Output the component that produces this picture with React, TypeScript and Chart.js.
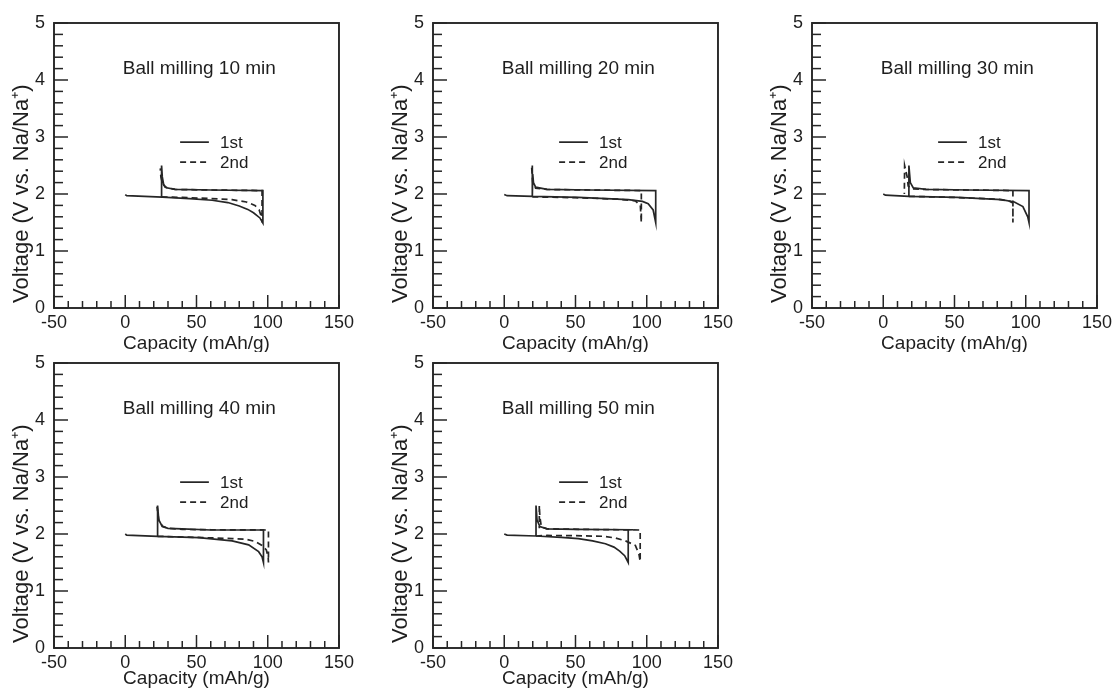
import React, { useEffect, useRef } from 'react';
import { Chart, registerables } from 'chart.js';

Chart.register(...registerables);

// ---------- text ----------
const panelTitles = ['Ball milling 10 min', 'Ball milling 20 min', 'Ball milling 30 min', 'Ball milling 40 min', 'Ball milling 50 min'];
const seriesLabels = ['1st', '2nd'];
const xTitle = 'Capacity (mAh/g)';
const yTitle = 'Voltage (V vs. Na/Na\u207A)';

// ---------- axes ----------
const xMajorTicks = [-50, 0, 50, 100, 150];
const yMajorTicks = [0, 1, 2, 3, 4, 5];
const xMinorPerMajor = 5; // minor every 10
const yMinorPerMajor = 5; // minor every 0.2

// ---------- data (capacity mAh/g, voltage V) ----------
// 10 min
const m10FirstCap = [0, 1, 26, 45, 61, 72, 80, 86, 90, 94.5, 96.6, 96.6, 60, 35, 29, 27, 26, 25.5, 25.5];
const m10FirstV = [1.99, 1.97, 1.945, 1.92, 1.89, 1.85, 1.79, 1.73, 1.67, 1.58, 1.49, 2.06, 2.07, 2.08, 2.11, 2.16, 2.3, 2.5, 1.95];
const m10SecondCap = [25.5, 40, 60, 75, 85, 91, 94, 95.5, 96, 96, 60, 35, 28, 26, 25, 24.6];
const m10SecondV = [1.95, 1.94, 1.92, 1.9, 1.86, 1.8, 1.72, 1.6, 1.5, 2.06, 2.07, 2.08, 2.12, 2.2, 2.3, 2.45];
// 20 min
const m20FirstCap = [0, 2, 20, 52, 87, 97, 101, 104.5, 106.3, 106.3, 60, 30, 22, 20.5, 20, 19.7, 19.7];
const m20FirstV = [1.99, 1.97, 1.96, 1.94, 1.9, 1.87, 1.83, 1.72, 1.5, 2.06, 2.07, 2.08, 2.12, 2.2, 2.35, 2.5, 1.95];
const m20SecondCap = [19.7, 50, 80, 92, 95.5, 96.2, 96.2, 60, 30, 22, 20, 19.2];
const m20SecondV = [1.95, 1.935, 1.91, 1.88, 1.8, 1.5, 2.06, 2.07, 2.08, 2.1, 2.2, 2.48];
// 30 min
const m30FirstCap = [0, 1.5, 18, 52, 83, 92, 98, 101.4, 102.3, 102.3, 60, 30, 21, 19, 18.5, 18, 18];
const m30FirstV = [2.0, 1.98, 1.96, 1.94, 1.9, 1.86, 1.78, 1.6, 1.5, 2.06, 2.07, 2.08, 2.11, 2.2, 2.35, 2.5, 1.96];
const m30SecondCap = [18, 50, 80, 89, 91, 91, 91, 60, 30, 20, 17.5, 16.8, 15, 14.8];
const m30SecondV = [1.96, 1.94, 1.91, 1.87, 1.84, 1.5, 2.06, 2.07, 2.08, 2.09, 2.14, 2.3, 2.5, 2.0];
// 40 min
const m40FirstCap = [0, 1, 22.7, 51.7, 75, 86.6, 93.6, 96, 97, 97, 60, 40, 30, 26, 23.5, 22.7, 22.7];
const m40FirstV = [2.0, 1.98, 1.96, 1.935, 1.88, 1.81, 1.69, 1.6, 1.5, 2.07, 2.07, 2.09, 2.1, 2.13, 2.25, 2.5, 1.96];
const m40SecondCap = [22.7, 50, 75, 84.3, 91.2, 96, 99, 100.3, 100.5, 100.5, 60, 40, 30, 26, 23.5, 22.3];
const m40SecondV = [1.96, 1.94, 1.92, 1.91, 1.87, 1.8, 1.72, 1.6, 1.5, 2.07, 2.075, 2.08, 2.1, 2.14, 2.25, 2.48];
// 50 min
const m50FirstCap = [0, 2, 22.3, 40, 52, 62, 71, 77, 81, 84.5, 87, 87, 90.7, 50, 30, 25, 23, 22.3, 22.3];
const m50FirstV = [2.0, 1.98, 1.965, 1.94, 1.92, 1.88, 1.83, 1.77, 1.7, 1.62, 1.5, 2.07, 2.075, 2.08, 2.09, 2.13, 2.25, 2.5, 1.965];
const m50SecondCap = [22.3, 30, 50, 70, 78, 85, 92, 94.5, 95.4, 95.4, 60, 30, 26, 25, 24.6, 24.6];
const m50SecondV = [1.965, 1.975, 1.97, 1.96, 1.93, 1.88, 1.8, 1.65, 1.52, 2.07, 2.08, 2.09, 2.13, 2.3, 2.5, 2.1];

const panelData = [
  [m10FirstCap, m10FirstV, m10SecondCap, m10SecondV],
  [m20FirstCap, m20FirstV, m20SecondCap, m20SecondV],
  [m30FirstCap, m30FirstV, m30SecondCap, m30SecondV],
  [m40FirstCap, m40FirstV, m40SecondCap, m40SecondV],
  [m50FirstCap, m50FirstV, m50SecondCap, m50SecondV],
];

// ---------- styles ----------
const FONT = '"Liberation Sans", Arial, Helvetica, sans-serif';
const INK = '#1e1e1e';
const LINE = '#262626';
const DASH = [6, 4];
const CANVAS_W = 358;
const CANVAS_H = 352;
const COL_STEP = 379;
const ROW_STEP = 340;

const toPoints = (xs: number[], ys: number[]) => xs.map((x, i) => ({ x, y: ys[i] }));

const decorPlugin = {
  id: 'decor',
  afterDatasetsDraw(chart: any, _args: any, opts: any) {
    const { ctx, chartArea: a } = chart;
    const xs = chart.scales.x;
    const ys = chart.scales.y;
    ctx.save();
    ctx.strokeStyle = LINE;
    ctx.lineWidth = 1.9;
    ctx.setLineDash([]);
    ctx.strokeRect(a.left, a.top, a.right - a.left, a.bottom - a.top);
    ctx.lineWidth = 1.5;
    // x ticks (inward from bottom)
    for (let i = 0; i < xMajorTicks.length; i++) {
      const v0 = xMajorTicks[i];
      const v1 = xMajorTicks[i + 1];
      const px = xs.getPixelForValue(v0);
      ctx.beginPath(); ctx.moveTo(px, a.bottom); ctx.lineTo(px, a.bottom - 13); ctx.stroke();
      if (v1 === undefined) break;
      for (let k = 1; k < xMinorPerMajor; k++) {
        const pm = xs.getPixelForValue(v0 + ((v1 - v0) * k) / xMinorPerMajor);
        ctx.beginPath(); ctx.moveTo(pm, a.bottom); ctx.lineTo(pm, a.bottom - 7); ctx.stroke();
      }
    }
    // y ticks (inward from left)
    for (let i = 0; i < yMajorTicks.length; i++) {
      const v0 = yMajorTicks[i];
      const v1 = yMajorTicks[i + 1];
      const py = ys.getPixelForValue(v0);
      ctx.beginPath(); ctx.moveTo(a.left, py); ctx.lineTo(a.left + 14, py); ctx.stroke();
      if (v1 === undefined) break;
      for (let k = 1; k < yMinorPerMajor; k++) {
        const pm = ys.getPixelForValue(v0 + ((v1 - v0) * k) / yMinorPerMajor);
        ctx.beginPath(); ctx.moveTo(a.left, pm); ctx.lineTo(a.left + 9, pm); ctx.stroke();
      }
    }
    ctx.fillStyle = INK;
    // y-axis title (rotated, starting just above the bottom of the plot)
    ctx.save();
    ctx.translate(22, a.bottom - 5);
    ctx.rotate(-Math.PI / 2);
    ctx.font = `22px ${FONT}`;
    ctx.textAlign = 'left';
    ctx.textBaseline = 'middle';
    ctx.fillText(yTitle, 0, 0);
    ctx.restore();
    // panel title
    ctx.font = `19px ${FONT}`;
    ctx.textAlign = 'center';
    ctx.textBaseline = 'middle';
    ctx.fillText(opts.title, xs.getPixelForValue(52), ys.getPixelForValue(4.2));
    // legend
    const lx0 = xs.getPixelForValue(38.5);
    const lx1 = xs.getPixelForValue(58.7);
    const tx = xs.getPixelForValue(66.5);
    const rows = [2.91, 2.56];
    ctx.font = `17px ${FONT}`;
    ctx.textAlign = 'left';
    ctx.lineWidth = 1.7;
    rows.forEach((v, i) => {
      const py = ys.getPixelForValue(v);
      ctx.setLineDash(i === 0 ? [] : DASH);
      ctx.beginPath(); ctx.moveTo(lx0, py); ctx.lineTo(lx1, py); ctx.stroke();
      ctx.fillText(seriesLabels[i], tx, py + 1);
    });
    ctx.restore();
  },
};

function Panel({ idx }: { idx: number }) {
  const ref = useRef<HTMLCanvasElement | null>(null);
  useEffect(() => {
    if (!ref.current) return;
    const [c1, v1, c2, v2] = panelData[idx];
    const row = Math.floor(idx / 3);
    const chart = new Chart(ref.current, {
      type: 'scatter',
      data: {
        datasets: [
          {
            label: seriesLabels[0],
            data: toPoints(c1, v1),
            showLine: true,
            borderColor: LINE,
            borderWidth: 1.7,
            pointRadius: 0,
            tension: 0,
            fill: false,
          },
          {
            label: seriesLabels[1],
            data: toPoints(c2, v2),
            showLine: true,
            borderColor: LINE,
            borderWidth: 1.7,
            borderDash: DASH,
            pointRadius: 0,
            tension: 0,
            fill: false,
          },
        ],
      },
      options: {
        animation: false,
        responsive: false,
        devicePixelRatio: 1,
        layout: { padding: { left: 0, top: 23, right: 16, bottom: 0 }, autoPadding: false },
        plugins: {
          legend: { display: false },
          tooltip: { enabled: false },
          decor: { title: panelTitles[idx] },
        } as any,
        scales: {
          x: {
            type: 'linear',
            position: 'bottom',
            min: -50,
            max: 150,
            grid: { display: false, drawTicks: false },
            border: { display: false },
            ticks: {
              stepSize: 50,
              padding: 4,
              color: INK,
              autoSkip: false,
              maxRotation: 0,
              font: { size: 18, family: FONT },
            },
            title: {
              display: true,
              text: xTitle,
              color: INK,
              font: { size: 19, family: FONT },
              padding: { top: 0, bottom: row === 0 ? -3 : 2 },
            },
            afterFit: (s: any) => { s.height = 44; },
          },
          y: {
            type: 'linear',
            min: 0,
            max: 5,
            grid: { display: false, drawTicks: false },
            border: { display: false },
            ticks: {
              stepSize: 1,
              padding: 9,
              color: INK,
              font: { size: 18, family: FONT },
            },
            title: { display: false },
            afterFit: (s: any) => { s.width = 54; },
          },
        },
      } as any,
      plugins: [decorPlugin],
    });
    return () => chart.destroy();
  }, [idx]);
  const row = Math.floor(idx / 3);
  const col = idx % 3;
  return (
    <canvas
      ref={ref}
      width={CANVAS_W}
      height={CANVAS_H}
      style={{ position: 'absolute', left: col * COL_STEP, top: row * ROW_STEP, width: CANVAS_W, height: CANVAS_H }}
    />
  );
}

export default function App() {
  return (
    <div style={{ position: 'absolute', left: 0, top: 0, width: 1115, height: 692, background: '#fff', overflow: 'hidden' }}>
      {panelTitles.map((_, i) => (
        <Panel key={i} idx={i} />
      ))}
    </div>
  );
}
